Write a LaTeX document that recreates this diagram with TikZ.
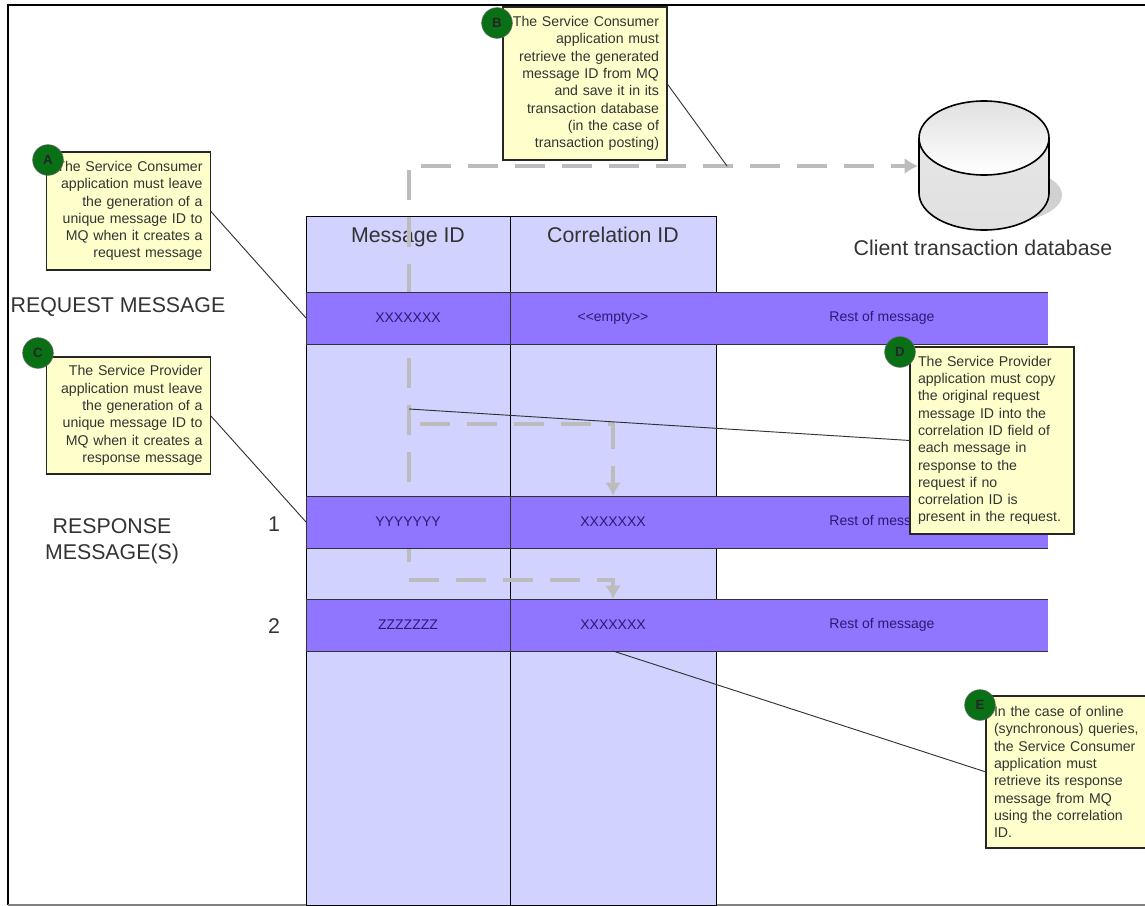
\documentclass[tikz,border=0pt]{standalone}
\usepackage{fontspec}
\setmainfont{Liberation Sans}
\usepackage{color}
\usetikzlibrary{shapes,arrows,arrows.meta,positioning}
\definecolor{columnblue}{HTML}{D2D2FF}
\definecolor{barblue}{HTML}{8F75FF}
\definecolor{noteyellow}{HTML}{FFFFCC}
\definecolor{badgegreen}{HTML}{0A7016}
\definecolor{linkgray}{HTML}{BCBCBC}
\definecolor{inkgray}{HTML}{333333}
\definecolor{cellink}{HTML}{2B1C70}
\tikzset{
	column/.style={draw=black, fill=columnblue, minimum width=#1, minimum height=516.75pt, inner sep=0pt, outer sep=0pt},
	cell/.style={draw=black!80, fill=barblue, text=cellink, font=\fontsize{10.5}{12}\selectfont, minimum width=#1, minimum height=39pt, inner sep=0pt, outer sep=0pt},
	restcell/.style={fill=barblue, text=cellink, font=\fontsize{10.5}{12}\selectfont, minimum width=249pt, minimum height=39pt, inner sep=0pt, outer sep=0pt},
	note/.style={draw=black!85, thick, fill=noteyellow, text=inkgray, font=\fontsize{10.6}{12.95}\selectfont, text width=111pt, inner xsep=6pt, inner ysep=0pt, outer sep=0pt},
	badge/.style={circle, draw=black!60, fill=badgegreen, text=black!85, font=\bfseries\fontsize{10}{12}\selectfont, minimum size=23pt, inner sep=0pt},
	biglabel/.style={text=inkgray, font=\fontsize{16}{19.5}\selectfont, inner sep=0pt},
	link/.style={draw=linkgray, line width=3pt, dash pattern=on 22.5pt off 12.75pt},
	linktip/.style={-{Latex[length=10pt,width=12pt]}},
	leader/.style={draw=black!80, line width=0.7pt}
}
\begin{document}
\begin{tikzpicture}[x=0.75pt, y=-0.75pt]
	\useasboundingbox (0,0) rectangle (1145,906);
	\draw [line width=1.5pt] (1145,5) -- (8,5) -- (8,905);
	\draw [gray, line width=1pt] (8,905) -- (1145,905);

	\node [column=153pt] (msgcolumn)  at (408,560.5) {};
	\node [column=154.5pt] (corrcolumn) at (613,560.5) {};
	\node [biglabel, anchor=base] (msghead)  at (408,242) {Message ID};
	\node [biglabel, anchor=base] (corrhead) at (613,242) {Correlation ID};

	\coordinate (dbaseentry) at (918,166);
	\coordinate (trunktop)   at (409,170);
	\coordinate (trunkend)   at (409,562);
	\coordinate (headstart)  at (421,166);
	\coordinate (branch)     at (420,424);
	\coordinate (bend)       at (613,424);
	\coordinate (lowstart)   at (409,580);
	\coordinate (lowbend)    at (613,580);
	\coordinate (postingtap) at (727,166);
	\coordinate (copytap)    at (409,409);
	\draw [link] (trunktop) -- (trunkend);
	\draw [link, linktip] (headstart) -- (dbaseentry);
	\draw [link, linktip] (branch) -- (bend) -- (613,496);
	\draw [link, linktip] (lowstart) -- (lowbend) -- (613,599);

	\node [cell=153pt]   (reqmsg)    at (408,318) {XXXXXXX};
	\node [cell=154.5pt] (reqcorr)   at (613,318) {<{}<empty>{}>};
	\node [restcell]     (reqrest)   at (882,318) {Rest of message};
	\node [cell=153pt]   (responemsg)  at (408,522) {YYYYYYY};
	\node [cell=154.5pt] (responecorr) at (613,522) {XXXXXXX};
	\node [restcell]     (responerest) at (882,522) {Rest of message};
	\node [cell=153pt]   (resptwomsg)  at (408,625) {ZZZZZZZ};
	\node [cell=154.5pt] (resptwocorr) at (613,625) {XXXXXXX};
	\node [restcell]     (resptworest) at (882,625) {Rest of message};
	\foreach \bar in {reqrest, responerest, resptworest}
		\draw [black!80] (\bar.north west) -- (\bar.north east) (\bar.south west) -- (\bar.south east);

	\node [biglabel] (reqlabel)  at (118,307) {REQUEST MESSAGE};
	\node [biglabel, align=center] (resplabel) at (112,541) {RESPONSE\\MESSAGE(S)};
	\node [biglabel] (numone) at (274,524) {1};
	\node [biglabel] (numtwo) at (274,626) {2};

	\fill [black!18] (1000,195) ellipse (62 and 28);
	\shade [top color=black!10, middle color=black!28, bottom color=black!12] (919,138) -- (919,193) arc (180:0:65 and 37) -- (1049,138) -- cycle;
	\draw [line width=1.2pt] (919,138) -- (919,193) arc (180:0:65 and 37) -- (1049,138);
	\shade [top color=black!12, bottom color=white, draw=black, line width=1.2pt] (984,138) ellipse (65 and 37);
	\node [biglabel] (dbaselabel) at (983,248) {Client transaction database};

	\node [note, align=right, minimum height=88.5pt] (notea) at (128.5,211) {The Service Consumer\\application must leave\\the generation of a\\unique message ID to\\MQ when it creates a\\request message};
	\node [note, align=right, minimum height=114.75pt] (noteb) at (585,83.5) {The Service Consumer\\application must\\retrieve the generated\\message ID from MQ\\and save it in its\\transaction database\\(in the case of\\transaction posting)};
	\node [note, align=right, minimum height=87.75pt] (notec) at (128.5,415.5) {The Service Provider\\application must leave\\the generation of a\\unique message ID to\\MQ when it creates a\\response message};
	\node [note, align=left, minimum height=140.25pt] (noted) at (992,440.5) {The Service Provider\\application must copy\\the original request\\message ID into the\\correlation ID field of\\each message in\\response to the\\request if no\\correlation ID is\\present in the request.};
	\node [note, align=left, minimum height=114pt] (notee) at (1068,772) {In the case of online\\(synchronous) queries,\\the Service Consumer\\application must\\retrieve its response\\message from MQ\\using the correlation\\ID.};

	\draw [leader] (notea.east) -- (reqmsg.west);
	\draw [leader] (noteb.east) -- (postingtap);
	\draw [leader] (notec.east) -- (responemsg.west);
	\draw [leader] (noted.west) -- (copytap);
	\draw [leader] (notee.west) -- (resptwocorr.south);

	\node [badge] (badgea) at (48,160) {A};
	\node [badge] (badgeb) at (497,23) {B};
	\node [badge] (badgec) at (38,353) {C};
	\node [badge] (badged) at (900,352) {D};
	\node [badge] (badgee) at (980,705) {E};
\end{tikzpicture}
\end{document}
